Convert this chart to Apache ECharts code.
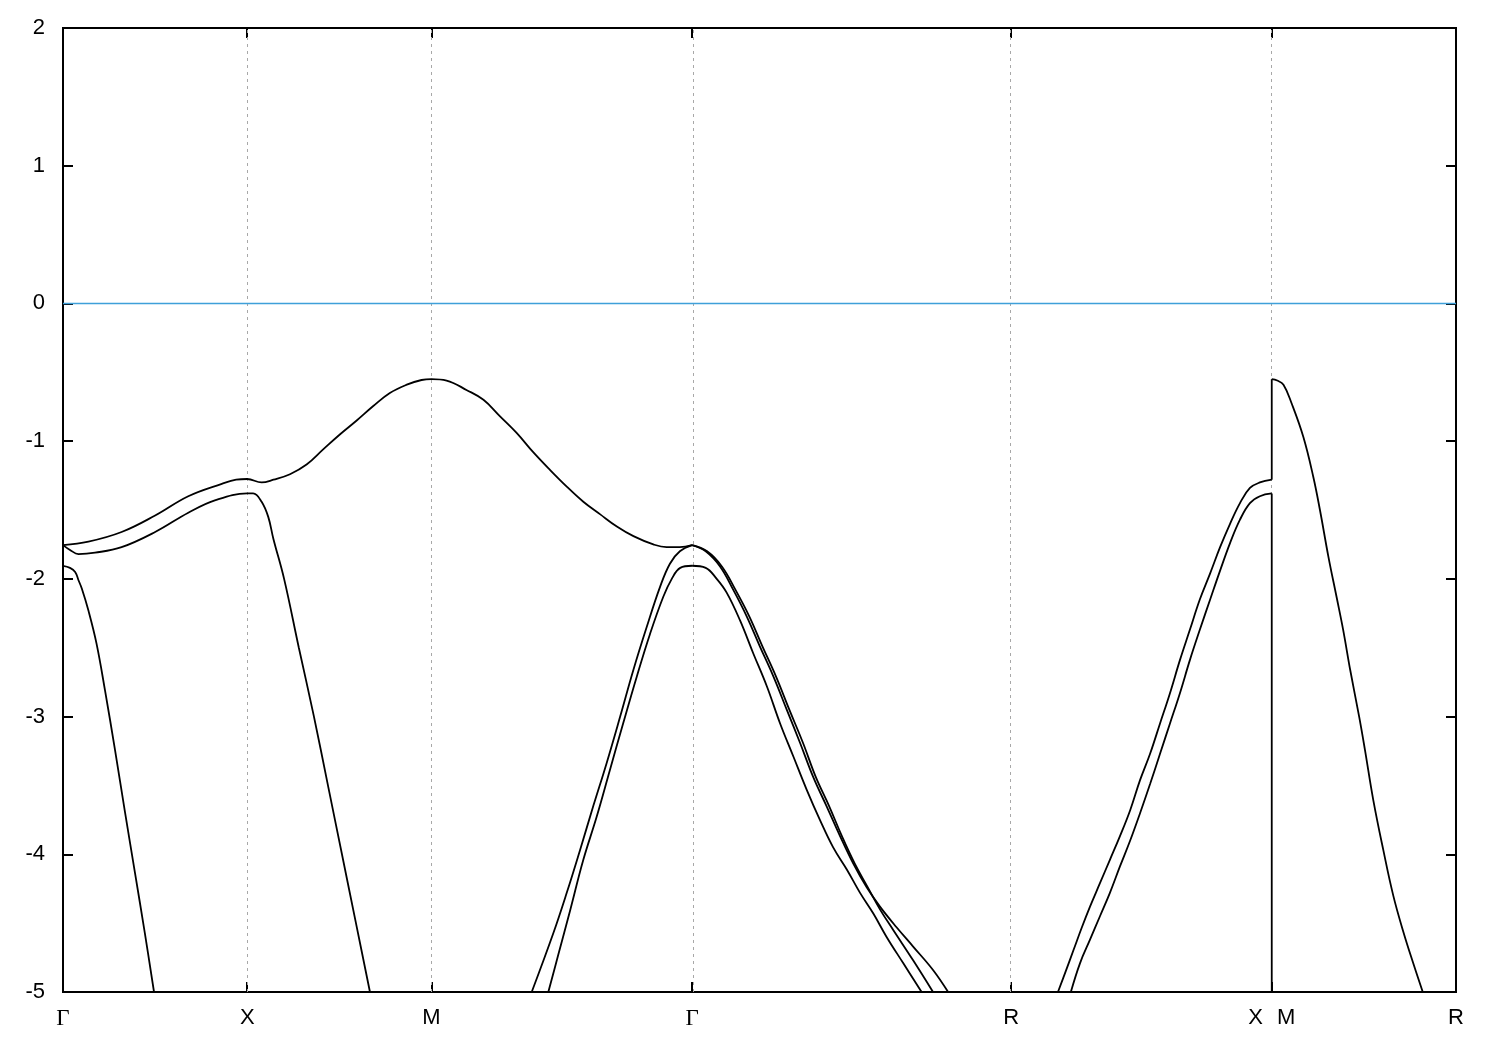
<!DOCTYPE html>
<html><head><meta charset="utf-8">
<script src="https://cdn.jsdelivr.net/npm/echarts@6/dist/echarts.min.js"></script>
<style>html,body{margin:0;padding:0;background:#fff}#c{width:1500px;height:1050px}</style>
</head><body><div id="c"></div>
<script>
// k-path positions (Γ X M Γ R X|M R) and their labels
const kTicks = [0, 0.5, 1.0, 1.7071, 2.5731, 3.2802, 3.7802];
const kLabels = ['Γ', 'X', 'M', 'Γ', 'R', 'X|M', 'R'];
const gridK = [0.5, 1.0, 1.7071, 2.5731, 3.2802];
const kMax = 3.7802;
const eMin = -5, eMax = 2, eStep = 1;
const fermiLine = [[0, 0], [3.7802, 0]];

// bands, [k, energy] pairs
const bandA = [[0,-1.755],[0.069,-1.73],[0.159,-1.66],[0.250,-1.54],[0.340,-1.40],[0.431,-1.31],[0.47,-1.28],[0.5,-1.275],[0.539,-1.30],[0.571,-1.28],[0.616,-1.24],[0.661,-1.17],[0.706,-1.06],[0.752,-0.95],[0.797,-0.85],[0.842,-0.745],[0.887,-0.65],[0.933,-0.59],[0.973,-0.556],[1.0,-0.549],[1.041,-0.56],[1.096,-0.63],[1.141,-0.70],[1.186,-0.82],[1.231,-0.94],[1.276,-1.08],[1.322,-1.21],[1.367,-1.33],[1.412,-1.44],[1.457,-1.53],[1.503,-1.62],[1.548,-1.69],[1.602,-1.75],[1.638,-1.77],[1.674,-1.77],[1.7071,-1.755]];
const bandB = [[0,-1.755],[0.019,-1.79],[0.042,-1.82],[0.087,-1.81],[0.159,-1.77],[0.250,-1.66],[0.340,-1.52],[0.412,-1.43],[0.5,-1.38],[0.516,-1.38],[0.539,-1.44],[0.557,-1.55],[0.571,-1.71],[0.600,-2.0],[0.640,-2.5],[0.681,-3.0],[0.719,-3.5],[0.757,-4.0],[0.795,-4.5],[0.833,-5.0]];
const bandC = [[0,-1.905],[0.019,-1.92],[0.033,-1.95],[0.042,-2.01],[0.051,-2.07],[0.069,-2.23],[0.091,-2.47],[0.114,-2.81],[0.141,-3.24],[0.168,-3.69],[0.195,-4.13],[0.222,-4.57],[0.247,-5.0]];
const bandMGouter = [[1.272,-5.0],[1.331,-4.57],[1.367,-4.28],[1.403,-3.97],[1.439,-3.65],[1.475,-3.34],[1.512,-3.00],[1.548,-2.66],[1.584,-2.35],[1.620,-2.06],[1.647,-1.89],[1.674,-1.80],[1.7071,-1.755]];
const bandMGinner = [[1.317,-5.0],[1.344,-4.73],[1.376,-4.41],[1.412,-4.04],[1.448,-3.73],[1.484,-3.39],[1.520,-3.05],[1.557,-2.71],[1.593,-2.40],[1.629,-2.13],[1.652,-2.00],[1.675,-1.92],[1.7071,-1.905]];
const bandD = [[1.7071,-1.755],[1.744,-1.80],[1.783,-1.91],[1.819,-2.08],[1.855,-2.27],[1.891,-2.49],[1.928,-2.71],[1.964,-2.95],[2.000,-3.19],[2.036,-3.44],[2.072,-3.65],[2.109,-3.87],[2.145,-4.07],[2.181,-4.24],[2.217,-4.38],[2.262,-4.53],[2.307,-4.67],[2.361,-4.84],[2.402,-5.0]];
const bandE = [[1.7071,-1.755],[1.748,-1.80],[1.788,-1.91],[1.825,-2.08],[1.862,-2.27],[1.898,-2.49],[1.935,-2.71],[1.971,-2.95],[2.008,-3.19],[2.043,-3.44],[2.079,-3.65],[2.114,-3.87],[2.149,-4.07],[2.184,-4.24],[2.217,-4.40],[2.253,-4.55],[2.307,-4.77],[2.361,-5.0]];
const bandF = [[1.7071,-1.905],[1.744,-1.92],[1.774,-2.00],[1.801,-2.10],[1.837,-2.30],[1.873,-2.54],[1.910,-2.78],[1.946,-3.05],[1.982,-3.29],[2.018,-3.53],[2.054,-3.75],[2.090,-3.95],[2.127,-4.11],[2.163,-4.28],[2.199,-4.43],[2.235,-4.60],[2.280,-4.79],[2.330,-5.0]];
const bandG = [[2.700,-5.0],[2.721,-4.85],[2.743,-4.69],[2.765,-4.53],[2.787,-4.38],[2.814,-4.21],[2.841,-4.04],[2.868,-3.87],[2.896,-3.68],[2.923,-3.46],[2.950,-3.27],[2.977,-3.05],[3.004,-2.83],[3.031,-2.59],[3.058,-2.37],[3.085,-2.15],[3.113,-1.96],[3.140,-1.77],[3.167,-1.60],[3.194,-1.45],[3.221,-1.34],[3.248,-1.30],[3.2802,-1.28]];
const bandI = [[3.2802,-0.55],[3.295,-0.56],[3.312,-0.59],[3.334,-0.725],[3.366,-0.97],[3.393,-1.26],[3.411,-1.50],[3.434,-1.84],[3.456,-2.13],[3.474,-2.37],[3.493,-2.66],[3.518,-3.01],[3.533,-3.24],[3.556,-3.61],[3.583,-3.97],[3.610,-4.30],[3.637,-4.56],[3.664,-4.79],[3.690,-5.0]];
const bandH = [[2.735,-5.0],[2.760,-4.79],[2.787,-4.62],[2.814,-4.45],[2.841,-4.28],[2.868,-4.09],[2.896,-3.90],[2.923,-3.70],[2.950,-3.49],[2.977,-3.27],[3.004,-3.05],[3.031,-2.83],[3.058,-2.59],[3.085,-2.37],[3.113,-2.15],[3.140,-1.94],[3.167,-1.74],[3.194,-1.57],[3.221,-1.45],[3.248,-1.40],[3.2802,-1.38]];
// jumps at the X|M discontinuity
const jumpGI = [[3.2802,-1.28],[3.2802,-0.55]];
const jumpH = [[3.2802,-1.38],[3.2802,-5.0]];

const curves = [bandA, bandB, bandC, bandMGouter, bandMGinner, bandD, bandE, bandF, bandG, bandI, bandH];
const jumps = [jumpGI, jumpH];

const chart = echarts.init(document.getElementById('c'), null, {renderer: 'canvas'});
const fmt = v => {
  const i = kTicks.findIndex(t => Math.abs(t - v) < 1e-6);
  if (i < 0) return '';
  const s = kLabels[i];
  if (s === 'Γ') return '{g|Γ}';
  if (s.indexOf('|') >= 0) { const p = s.split('|'); return '{l|' + p[0] + '}{r|' + p[1] + '}'; }
  return s;
};
const FONT = "'Liberation Sans', Arial, sans-serif";
const tickStyle = {color: '#000', width: 2};
const xBase = {type: 'value', min: 0, max: kMax, axisLine: {show: false, onZero: false}, splitLine: {show: false}};
const yBase = {type: 'value', min: eMin, max: eMax, interval: eStep, axisLine: {show: false, onZero: false}, splitLine: {show: false}};

const lineBase = {type: 'line', showSymbol: false, symbol: 'none', clip: true, silent: true,
  lineStyle: {color: '#000', width: 1.8}, z: 5};
const series = [];
series.push({
  type: 'line', data: fermiLine, showSymbol: false, symbol: 'none', clip: true,
  lineStyle: {color: '#3fa0d9', width: 1.5}, z: 6, silent: true,
  markLine: {
    silent: true, symbol: ['none', 'none'], label: {show: false}, z: 1,
    lineStyle: {color: '#a8a8a8', width: 1, type: [3, 4]},
    data: gridK.map(k => ({xAxis: k}))
  }
});
curves.forEach(b => series.push(Object.assign({}, lineBase, {data: b, smooth: 0.4})));
jumps.forEach(b => series.push(Object.assign({}, lineBase, {data: b, smooth: false})));

chart.setOption({
  animation: false,
  backgroundColor: '#fff',
  grid: {left: 63, right: 44, top: 28, bottom: 58, show: true, borderColor: '#000', borderWidth: 2, backgroundColor: 'transparent'},
  xAxis: [
    Object.assign({}, xBase, {
      position: 'bottom',
      axisTick: {show: true, inside: true, length: 10, customValues: kTicks, lineStyle: tickStyle},
      axisLabel: {show: true, customValues: kTicks, formatter: fmt, margin: 15, fontSize: 22, color: '#000',
        fontFamily: FONT, showMinLabel: true, showMaxLabel: true,
        rich: {
          g: {fontFamily: "'Liberation Serif', serif", fontSize: 23, color: '#000'},
          l: {fontFamily: FONT, fontSize: 22, color: '#000', padding: [0, 14, 0, 0]},
          r: {fontFamily: FONT, fontSize: 22, color: '#000'}
        }}
    }),
    Object.assign({}, xBase, {
      position: 'top',
      axisTick: {show: true, inside: true, length: 10, customValues: kTicks, lineStyle: tickStyle},
      axisLabel: {show: false}
    })
  ],
  yAxis: [
    Object.assign({}, yBase, {
      position: 'left',
      axisTick: {show: true, inside: true, length: 10, lineStyle: tickStyle},
      axisLabel: {show: true, margin: 18, fontSize: 22, color: '#000', fontFamily: FONT}
    }),
    Object.assign({}, yBase, {
      position: 'right',
      axisTick: {show: true, inside: true, length: 10, lineStyle: tickStyle},
      axisLabel: {show: false}
    })
  ],
  series: series
});
</script>
</body></html>
